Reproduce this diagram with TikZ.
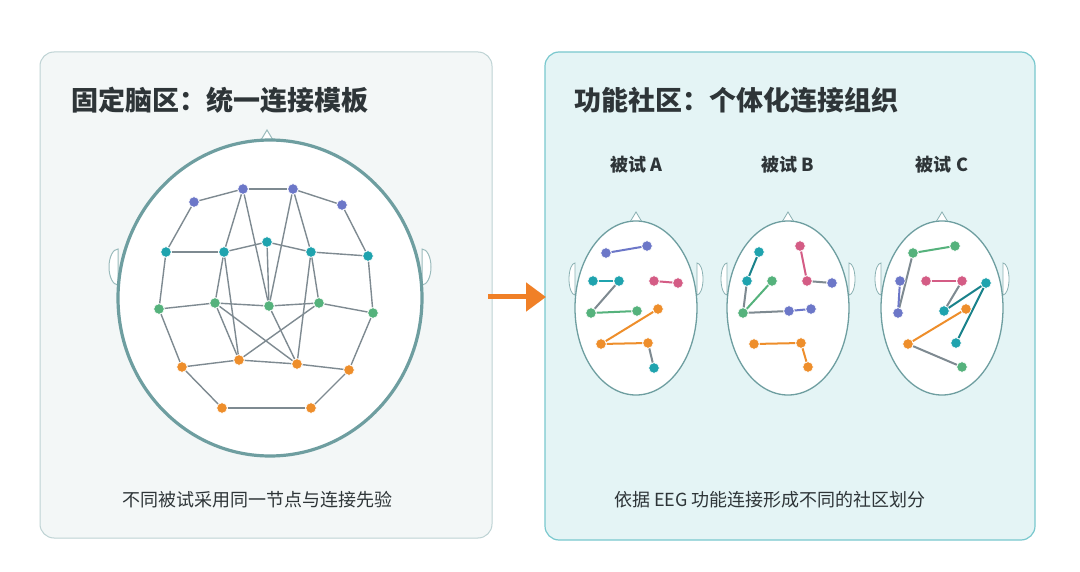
\documentclass[tikz,border=0pt]{standalone}
\usepackage{fontspec}
\setmainfont{Noto Sans CJK SC}
\usetikzlibrary{arrows.meta}
\pgfdeclarelayer{top}
\pgfsetlayers{main,top}
\definecolor{hd}{HTML}{6E9EA0}
\definecolor{pu}{HTML}{6C77C8}
\definecolor{tl}{HTML}{1FA3AE}
\definecolor{gr}{HTML}{55B27C}
\definecolor{og}{HTML}{EE8E2B}
\definecolor{pk}{HTML}{D45C85}
\definecolor{ln}{HTML}{7E8A91}
\definecolor{tx}{HTML}{2E3538}
\tikzset{
    every picture/.append style={x=1pt, y=-1pt},
    dot/.style={circle, fill=#1, draw=white, line width=0.6pt, inner sep=0pt, minimum size=10.5pt},
    link/.style={draw=#1, line width=2pt},
    mesh/.style={draw=ln, line width=1.4pt}
}

\begin{document}
\begin{tikzpicture}
	\useasboundingbox (0,0) rectangle (1080,572);
	\fill[white] (0,0) rectangle (1080,572);
	% panels
	\draw[fill=hd!8, draw=hd!45, line width=1pt, rounded corners=14pt] (40,52) rectangle (492,538);
	\draw[fill=tl!12, draw=tl!60, line width=1.2pt, rounded corners=14pt] (545,52) rectangle (1035,540);
	\node (t1) [anchor=west, font=\bfseries\fontsize{27}{32}\selectfont, text=tx] at (68,100) {固定脑区：统一连接模板};
	\node (t2) [anchor=west, font=\bfseries\fontsize{27}{32}\selectfont, text=tx] at (571,100) {功能社区：个体化连接组织};
	\node (c1) [font=\fontsize{18}{22}\selectfont, text=tx] at (257,500) {不同被试采用同一节点与连接先验};
	\node (c2) [font=\fontsize{18}{22}\selectfont, text=tx] at (770,500) {依据 EEG 功能连接形成不同的社区划分};
	% big head
	\draw[hd!70, fill=white, line width=1pt] (261,140) -- (267,130) -- (273,140);
	\draw[hd!70, fill=white, line width=1pt] (118,285) arc (90:270:9 and 18) -- cycle;
	\draw[hd!70, fill=white, line width=1pt] (422,285) arc (90:-90:9 and 18) -- cycle;
	\draw[hd, fill=white, line width=3.2pt] (270,298) ellipse (152 and 158);
	\begin{pgfonlayer}{top}
	\node (P1) [dot=pu] at (194,202) {}; \node (P2) [dot=pu] at (243,189) {};
	\node (P3) [dot=pu] at (293,189) {}; \node (P4) [dot=pu] at (342,205) {};
	\node (T1) [dot=tl] at (166,252) {}; \node (T2) [dot=tl] at (224,252) {};
	\node (T3) [dot=tl] at (267,242) {}; \node (T4) [dot=tl] at (311,252) {};
	\node (T5) [dot=tl] at (368,256) {};
	\node (G1) [dot=gr] at (159,309) {}; \node (G2) [dot=gr] at (215,303) {};
	\node (G3) [dot=gr] at (269,306) {}; \node (G4) [dot=gr] at (319,303) {};
	\node (G5) [dot=gr] at (373,313) {};
	\node (O1) [dot=og] at (182,367) {}; \node (O2) [dot=og] at (239,360) {};
	\node (O3) [dot=og] at (297,364) {}; \node (O4) [dot=og] at (349,370) {};
	\node (O5) [dot=og] at (222,408) {}; \node (O6) [dot=og] at (311,408) {};
	\end{pgfonlayer}
	\foreach \a/\b in {P1/P2,P2/P3,P3/P4,P1/T1,P4/T5,T1/T2,T2/T3,T3/T4,T4/T5,
		P2/T2,P2/G3,P3/G3,P3/T4,T3/G3,T1/G1,T5/G5,G1/G2,G2/G3,G3/G4,G4/G5,
		T2/G2,T2/O2,T4/G4,T4/O3,G2/O2,G2/O3,G4/O2,G3/O3,G1/O1,G5/O4,
		O1/O2,O2/O3,O3/O4,O1/O5,O4/O6,O5/O6}
		\draw[mesh] (\a) -- (\b);
	% arrow
	\coordinate (a0) at (488,297); \coordinate (a1) at (546,297);
	\draw[og!90!red, line width=5pt, -{Triangle[length=20pt, width=28pt]}] (a0) -- (a1);
	% small heads
	\foreach \cx/\s in {636/A, 788/B, 942/C} {
		\node (s\s) [font=\bfseries\fontsize{18}{22}\selectfont, text=tx] at (\cx,165) {被试 \s};
		\draw[hd!80, fill=white, line width=0.8pt] (\cx-6,222) -- (\cx,212) -- (\cx+6,222);
		\draw[hd!80, fill=white, line width=0.8pt] (\cx-61,295) arc (90:270:6 and 16) -- cycle;
		\draw[hd!80, fill=white, line width=0.8pt] (\cx+61,295) arc (90:-90:6 and 16) -- cycle;
		\draw[hd, fill=white, line width=1.3pt] (\cx,308) ellipse (61 and 87);
	}
	\begin{pgfonlayer}{top}
	% subject A
	\node (a1) [dot=pu] at (606,253) {}; \node (a2) [dot=pu] at (647,246) {};
	\node (a3) [dot=tl] at (593,281) {}; \node (a4) [dot=tl] at (619,281) {};
	\node (a5) [dot=pk] at (654,281) {}; \node (a6) [dot=pk] at (678,283) {};
	\node (a7) [dot=gr] at (591,313) {}; \node (a8) [dot=gr] at (637,311) {};
	\node (a9) [dot=og] at (658,309) {}; \node (a10) [dot=og] at (601,344) {};
	\node (a11) [dot=og] at (648,343) {}; \node (a12) [dot=tl] at (654,368) {};
	% subject B
	\node (b1) [dot=tl] at (759,252) {}; \node (b2) [dot=tl] at (747,281) {};
	\node (b3) [dot=gr] at (772,281) {}; \node (b4) [dot=pk] at (800,246) {};
	\node (b5) [dot=pk] at (807,281) {}; \node (b6) [dot=pu] at (832,283) {};
	\node (b7) [dot=gr] at (743,313) {}; \node (b8) [dot=pu] at (789,311) {};
	\node (b9) [dot=pu] at (811,309) {}; \node (b10) [dot=og] at (754,344) {};
	\node (b11) [dot=og] at (801,343) {}; \node (b12) [dot=og] at (808,367) {};
	% subject C
	\node (k1) [dot=gr] at (913,253) {}; \node (k2) [dot=gr] at (955,246) {};
	\node (k3) [dot=pu] at (900,281) {}; \node (k4) [dot=pu] at (898,313) {};
	\node (k5) [dot=pk] at (926,281) {}; \node (k6) [dot=pk] at (962,281) {};
	\node (k7) [dot=tl] at (986,283) {}; \node (k8) [dot=tl] at (944,311) {};
	\node (k9) [dot=tl] at (956,343) {}; \node (k10) [dot=og] at (966,309) {};
	\node (k11) [dot=og] at (908,344) {}; \node (k12) [dot=gr] at (962,367) {};
	\end{pgfonlayer}
	\foreach \a/\b/\c in {a1/a2/pu,a3/a4/tl,a4/a7/ln,a5/a6/pk,a7/a8/gr,a9/a10/og,a10/a11/og,a11/a12/ln,
		b1/b2/tl!80!black,b2/b7/ln,b7/b3/gr,b4/b5/pk,b5/b6/ln,b7/b8/ln,b8/b9/pu,b10/b11/og,b11/b12/og,
		k1/k2/gr,k1/k4/ln,k3/k4/pu,k5/k6/pk,k6/k8/ln,k8/k7/tl!80!black,k7/k9/tl!80!black,k10/k11/og,k11/k12/ln}
		\draw[link=\c] (\a) -- (\b);
\end{tikzpicture}
\end{document}
